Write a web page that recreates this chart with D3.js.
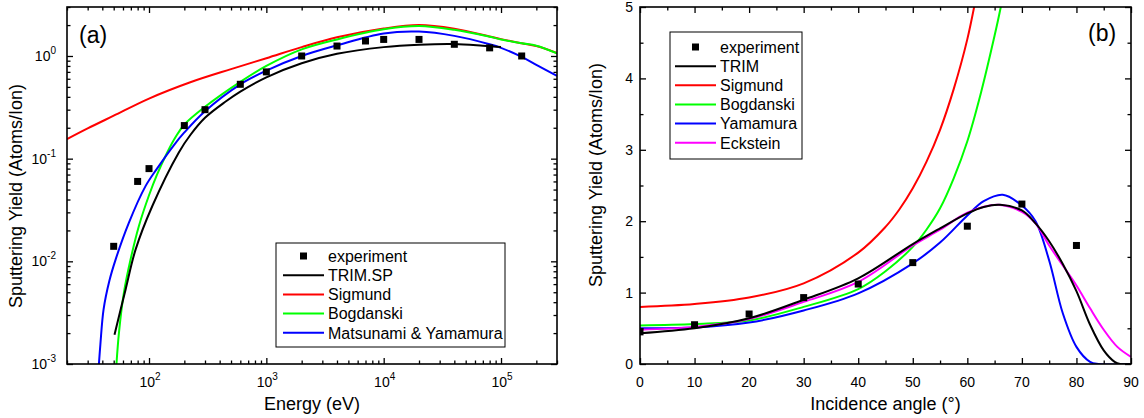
<!DOCTYPE html>
<html><head><meta charset="utf-8">
<script src="https://cdn.jsdelivr.net/npm/d3@7"></script>
<style>
html,body{margin:0;padding:0;background:#fff;}
svg{display:block;font-family:"Liberation Sans",Arial,Helvetica,sans-serif;}
</style></head>
<body>
<svg id="chart" width="1144" height="418"></svg>
<script>
// ---------- Panel (a) data: energy dependence ----------
const expA_E = [50, 80, 100, 200, 300, 600, 1000, 2000, 4000, 7000, 10000, 20000, 40000, 80000, 150000];
const expA_Y = [0.014, 0.06, 0.08, 0.21, 0.30, 0.53, 0.70, 1.0, 1.25, 1.4, 1.45, 1.45, 1.3, 1.2, 1.0];

const trimSP_E = [50.8, 63.1, 76.8, 106.5, 179.5, 225, 300, 450, 600, 1000, 2000, 4000, 10000, 20000, 40000, 70000, 100000];
const trimSP_Y = [0.00193, 0.0053, 0.013, 0.0344, 0.115, 0.17, 0.25, 0.36, 0.45, 0.62, 0.85, 1.05, 1.22, 1.29, 1.31, 1.26, 1.22];

const sigA_E = [20, 30, 50, 100, 225, 500, 1000, 2000, 4000, 10000, 20000, 40000, 80000, 100000, 150000, 200000, 300000];
const sigA_Y = [0.155, 0.197, 0.262, 0.385, 0.555, 0.745, 0.95, 1.22, 1.52, 1.85, 2.0, 1.84, 1.55, 1.46, 1.33, 1.25, 1.07];

const bogA_E = [52.8, 55.4, 61, 69.6, 81.9, 100, 117, 143, 170, 200, 300, 600, 1000, 2000, 4000, 10000, 20000, 40000, 80000, 100000, 150000, 200000, 300000];
const bogA_Y = [0.001, 0.002, 0.0049, 0.0104, 0.022, 0.044, 0.07, 0.115, 0.165, 0.215, 0.32, 0.56, 0.80, 1.16, 1.45, 1.82, 1.96, 1.8, 1.54, 1.45, 1.33, 1.26, 1.06];

const myA_E = [37.4, 38.5, 41, 46, 51.9, 67.3, 93.4, 117, 162.6, 200, 300, 600, 1000, 2000, 4000, 10000, 20000, 40000, 80000, 100000, 150000, 200000, 300000];
const myA_Y = [0.001, 0.00155, 0.0034, 0.0065, 0.0104, 0.0237, 0.054, 0.08, 0.135, 0.18, 0.29, 0.53, 0.72, 1.0, 1.27, 1.66, 1.73, 1.57, 1.3, 1.2, 0.98, 0.82, 0.64];

// ---------- Panel (b) data: angular dependence ----------
const expB_A = [0, 10, 20, 30, 40, 50, 60, 70, 80];
const expB_Y = [0.45, 0.55, 0.70, 0.93, 1.12, 1.42, 1.93, 2.24, 1.66];

const trimB_A = [0, 10, 20, 30, 40, 50, 55, 60, 63, 66, 70, 72.5, 75, 77.5, 80, 82.5, 85, 87, 88, 90];
const trimB_Y = [0.43, 0.50, 0.64, 0.90, 1.20, 1.68, 1.90, 2.11, 2.2, 2.23, 2.15, 1.97, 1.72, 1.40, 1.02, 0.55, 0.19, 0.03, 0.0, 0.0];

const sigB_A = [0, 10, 20, 30, 40, 45, 47.5, 50, 52.5, 55, 57.5, 60, 62];
const sigB_Y = [0.80, 0.84, 0.93, 1.13, 1.56, 1.92, 2.16, 2.46, 2.83, 3.28, 3.85, 4.55, 5.3];

const bogB_A = [0, 10, 20, 30, 40, 45, 50, 52.5, 55, 57.5, 60, 62.5, 65, 66, 67];
const bogB_Y = [0.54, 0.56, 0.61, 0.80, 1.05, 1.30, 1.64, 1.88, 2.18, 2.6, 3.12, 3.8, 4.6, 4.95, 5.35];

const yamB_A = [0, 10, 20, 30, 40, 50, 55, 60, 63, 66.5, 70, 72.5, 75, 77.5, 80, 82.5, 84, 90];
const yamB_Y = [0.50, 0.51, 0.58, 0.75, 0.99, 1.41, 1.70, 2.08, 2.28, 2.37, 2.22, 2.0, 1.45, 0.71, 0.24, 0.03, 0.0, 0.0];

const eckB_A = [0, 10, 20, 30, 40, 50, 55, 60, 65.5, 70, 72.5, 75, 77.5, 80, 82.5, 85, 87.5, 90];
const eckB_Y = [0.48, 0.52, 0.63, 0.87, 1.15, 1.66, 1.88, 2.12, 2.23, 2.13, 1.97, 1.66, 1.38, 1.10, 0.78, 0.48, 0.24, 0.10];

// ---------- tick labels ----------
const xTicksA = [100, 1000, 10000, 100000];
const xTickExpA = ["2", "3", "4", "5"];
const yTicksA = [0.001, 0.01, 0.1, 1];
const yTickExpA = ["-3", "-2", "-1", "0"];
const xTicksB = [0, 10, 20, 30, 40, 50, 60, 70, 80, 90];
const yTicksB = [0, 1, 2, 3, 4, 5];

const legendA = ["experiment", "TRIM.SP", "Sigmund", "Bogdanski", "Matsunami & Yamamura"];
const legendB = ["experiment", "TRIM", "Sigmund", "Bogdanski", "Yamamura", "Eckstein"];

// ---------- drawing ----------
const svg = d3.select("#chart");
const C = {black:"#000000", red:"#ff0000", green:"#00ff00", blue:"#0000ff", magenta:"#ff00ff"};
const FONT_TICK = 14, FONT_TITLE = 18, FONT_LEG = 16;

function logMinors(lo, hi) {
  const out = [];
  for (let e = Math.floor(Math.log10(lo)); e <= Math.ceil(Math.log10(hi)); e++) {
    for (let k = 2; k <= 9; k++) {
      const v = k * Math.pow(10, e);
      if (v >= lo * 0.9999 && v <= hi * 1.0001) out.push(v);
    }
  }
  return out;
}

function frameAxes(g, x, y, xMaj, xMin, yMaj, yMin, L, R, T, B) {
  const MAJ = 6, MIN = 3.5;
  const add = (axis, tr) => {
    const a = g.append("g").attr("transform", tr).call(axis);
    a.select(".domain").remove();
    a.selectAll("line").attr("stroke", "#000").attr("stroke-width", 1.3);
  };
  add(d3.axisBottom(x).tickValues(xMaj).tickSizeInner(-MAJ).tickSizeOuter(0).tickFormat(""), `translate(0,${B})`);
  add(d3.axisBottom(x).tickValues(xMin).tickSizeInner(-MIN).tickSizeOuter(0).tickFormat(""), `translate(0,${B})`);
  add(d3.axisTop(x).tickValues(xMaj).tickSizeInner(-MAJ).tickSizeOuter(0).tickFormat(""), `translate(0,${T})`);
  add(d3.axisTop(x).tickValues(xMin).tickSizeInner(-MIN).tickSizeOuter(0).tickFormat(""), `translate(0,${T})`);
  add(d3.axisLeft(y).tickValues(yMaj).tickSizeInner(-MAJ).tickSizeOuter(0).tickFormat(""), `translate(${L},0)`);
  add(d3.axisLeft(y).tickValues(yMin).tickSizeInner(-MIN).tickSizeOuter(0).tickFormat(""), `translate(${L},0)`);
  add(d3.axisRight(y).tickValues(yMaj).tickSizeInner(-MAJ).tickSizeOuter(0).tickFormat(""), `translate(${R},0)`);
  add(d3.axisRight(y).tickValues(yMin).tickSizeInner(-MIN).tickSizeOuter(0).tickFormat(""), `translate(${R},0)`);
  g.append("rect").attr("x", L).attr("y", T).attr("width", R - L).attr("height", B - T)
    .attr("fill", "none").attr("stroke", "#000").attr("stroke-width", 1.6);
}

function drawSeries(g, x, y, xs, ys, color, clipId) {
  const pts = xs.map((v, i) => [x(v), y(ys[i])]);
  g.append("path").attr("clip-path", `url(#${clipId})`)
    .attr("d", d3.line().curve(d3.curveCatmullRom.alpha(0.5))(pts))
    .attr("fill", "none").attr("stroke", color).attr("stroke-width", 2).attr("stroke-linejoin", "round");
}
function drawPoints(g, x, y, xs, ys, clipId) {
  const S = 7;
  g.append("g").attr("clip-path", `url(#${clipId})`).selectAll("rect").data(xs).join("rect")
    .attr("x", (d) => x(d) - S / 2).attr("y", (d, i) => y(ys[i]) - S / 2)
    .attr("width", S).attr("height", S).attr("fill", "#000");
}
function drawLegend(g, names, colors, bx, by, bw, bh, row0, dy, lx0, lx1, tx) {
  g.append("rect").attr("x", bx).attr("y", by).attr("width", bw).attr("height", bh)
    .attr("fill", "#fff").attr("stroke", "#000").attr("stroke-width", 1);
  names.forEach((n, i) => {
    const cy = row0 + i * dy;
    if (i === 0) {
      g.append("rect").attr("x", (lx0 + lx1) / 2 - 3.5).attr("y", cy - 3.5).attr("width", 7).attr("height", 7).attr("fill", "#000");
    } else {
      g.append("line").attr("x1", lx0).attr("x2", lx1).attr("y1", cy).attr("y2", cy)
        .attr("stroke", colors[i]).attr("stroke-width", 2);
    }
    g.append("text").attr("x", tx).attr("y", cy + 5.8).attr("font-size", FONT_LEG).text(n);
  });
}

const defs = svg.append("defs");

// ===== Panel (a) =====
{
  const L = 67, R = 557, T = 7, B = 364;
  const x = d3.scaleLog().domain([20, 3e5]).range([L, R]);
  const y = d3.scaleLog().domain([1e-3, 3]).range([B, T]);
  defs.append("clipPath").attr("id", "clipA").append("rect").attr("x", L).attr("y", T).attr("width", R - L).attr("height", B - T);
  const g = svg.append("g");

  drawSeries(g, x, y, sigA_E, sigA_Y, C.red, "clipA");
  drawSeries(g, x, y, bogA_E, bogA_Y, C.green, "clipA");
  drawSeries(g, x, y, myA_E, myA_Y, C.blue, "clipA");
  drawSeries(g, x, y, trimSP_E, trimSP_Y, C.black, "clipA");
  drawPoints(g, x, y, expA_E, expA_Y, "clipA");

  frameAxes(g, x, y, xTicksA, logMinors(20, 3e5), yTicksA, logMinors(1e-3, 3), L, R, T, B);

  xTicksA.forEach((v, i) => {
    const t = g.append("text").attr("x", x(v) + 1).attr("y", 387).attr("text-anchor", "middle").attr("font-size", FONT_TICK);
    t.append("tspan").text("10");
    t.append("tspan").attr("font-size", 10).attr("dy", -7).text(xTickExpA[i]);
  });
  yTicksA.forEach((v, i) => {
    const t = g.append("text").attr("x", 56).attr("y", y(v) + 5).attr("text-anchor", "end").attr("font-size", FONT_TICK);
    t.append("tspan").text("10");
    t.append("tspan").attr("font-size", 10).attr("dy", -7).text(yTickExpA[i]);
  });

  g.append("text").attr("x", (L + R) / 2).attr("y", 410).attr("text-anchor", "middle").attr("font-size", FONT_TITLE).text("Energy (eV)");
  g.append("text").attr("transform", `translate(22,196) rotate(-90)`).attr("text-anchor", "middle").attr("font-size", FONT_TITLE).text("Sputtering Yield (Atoms/Ion)");
  g.append("text").attr("x", 79).attr("y", 43).attr("font-size", 23).text("(a)");

  drawLegend(g, legendA, [null, C.black, C.red, C.green, C.blue], 276, 243, 229, 104, 256, 19.2, 283, 324, 328);
}

// ===== Panel (b) =====
{
  const L = 640, R = 1131, T = 7, B = 364;
  const x = d3.scaleLinear().domain([0, 90]).range([L, R]);
  const y = d3.scaleLinear().domain([0, 5]).range([B, T]);
  defs.append("clipPath").attr("id", "clipB").append("rect").attr("x", L).attr("y", T).attr("width", R - L).attr("height", B - T);
  const g = svg.append("g");

  drawSeries(g, x, y, sigB_A, sigB_Y, C.red, "clipB");
  drawSeries(g, x, y, bogB_A, bogB_Y, C.green, "clipB");
  drawSeries(g, x, y, yamB_A, yamB_Y, C.blue, "clipB");
  drawSeries(g, x, y, eckB_A, eckB_Y, C.magenta, "clipB");
  drawSeries(g, x, y, trimB_A, trimB_Y, C.black, "clipB");
  drawPoints(g, x, y, expB_A, expB_Y, "clipB");

  const xMinB = d3.range(5, 90, 10);
  const yMinB = d3.range(0.5, 5, 1);
  frameAxes(g, x, y, xTicksB, xMinB, yTicksB, yMinB, L, R, T, B);

  xTicksB.forEach(v => {
    g.append("text").attr("x", x(v)).attr("y", 387).attr("text-anchor", "middle").attr("font-size", FONT_TICK).text(v);
  });
  yTicksB.forEach(v => {
    g.append("text").attr("x", 633).attr("y", y(v) + 5).attr("text-anchor", "end").attr("font-size", FONT_TICK).text(v);
  });

  g.append("text").attr("x", (L + R) / 2).attr("y", 410).attr("text-anchor", "middle").attr("font-size", FONT_TITLE).text("Incidence angle (°)");
  g.append("text").attr("transform", `translate(602,175) rotate(-90)`).attr("text-anchor", "middle").attr("font-size", FONT_TITLE).text("Sputtering Yield (Atoms/Ion)");
  g.append("text").attr("x", 1088).attr("y", 41).attr("font-size", 23).text("(b)");

  drawLegend(g, legendB, [null, C.black, C.red, C.green, C.blue, C.magenta], 670, 32, 132, 127, 47, 19.15, 675, 716, 720);
}
</script>
</body></html>
